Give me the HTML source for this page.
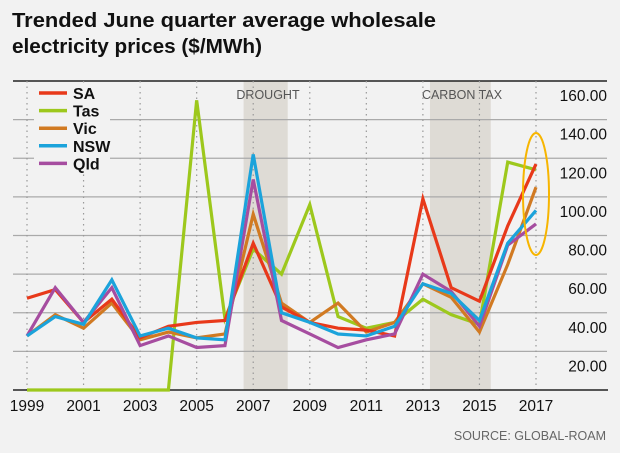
<!DOCTYPE html>
<html><head><meta charset="utf-8"><style>
html,body{margin:0;padding:0;background:#f2f2f2;}
svg{display:block;font-family:"Liberation Sans",sans-serif;}
</style></head><body>
<svg id="chart" width="620" height="453" viewBox="0 0 620 453">
<rect x="0" y="0" width="620" height="453" fill="#f2f2f2"/>
<text x="12" y="27" font-size="20" font-weight="bold" fill="#111" textLength="424" lengthAdjust="spacingAndGlyphs">Trended June quarter average wholesale</text>
<text x="12" y="53" font-size="20" font-weight="bold" fill="#111" textLength="250" lengthAdjust="spacingAndGlyphs">electricity prices ($/MWh)</text>
<g id="bands"></g><g id="grid"></g><g id="series"></g><g id="legend"></g>
<text x="606" y="440" font-size="12.5" fill="#666" text-anchor="end">SOURCE: GLOBAL-ROAM</text>
</svg>
<script>
const years = [1999,2000,2001,2002,2003,2004,2005,2006,2007,2008,2009,2010,2011,2012,2013,2014,2015,2016,2017];
const sa  = [47.5,52,35,47,27,33,35,36,76,43,35,32,31,28,99,53,46,85,117];
const tas = [0,0,0,0,0,0,150,37,73,60,96,38,32,35,47,39,34,118,114];
const vic = [28,39,32,45,26,30,27,29,91,45,35,45,30,35,55,48,30,65,105];
const nsw = [28,38,34,57,28,32,27,26,122,40,35,29,28,33,55,50,36,76,93];
const qld = [28,53,35,53,23,28,22,23,109,36,29,22,26,29,60,51,33,75,86];
const yTicks = [20,40,60,80,100,120,140,160];
const xTickYears = [1999,2001,2003,2005,2007,2009,2011,2013,2015,2017];
const seriesNames = ['SA','Tas','Vic','NSW','Qld'];
const NS='http://www.w3.org/2000/svg';
const x = yr => 27 + (yr-1999)*(536-27)/18;
const y = v => 390 - v*(390-81)/160;
function mk(tag, attrs, parent){const e=document.createElementNS(NS,tag);for(const k in attrs)e.setAttribute(k,attrs[k]);parent.appendChild(e);return e;}
const bands=document.getElementById('bands'), grid=document.getElementById('grid'), ser=document.getElementById('series'), leg=document.getElementById('legend');
let b=mk('rect',{x:x(2006.66),y:81,width:x(2008.22)-x(2006.66),height:309,fill:'#dedbd5'},bands);


b=mk('rect',{x:x(2013.25),y:81,width:x(2015.4)-x(2013.25),height:309,fill:'#dedbd5'},bands);


let t=mk('text',{x:268,y:99,'font-size':12.5,fill:'#555','text-anchor':'middle'},bands);t.textContent='DROUGHT';


t=mk('text',{x:462,y:99,'font-size':12.5,fill:'#555','text-anchor':'middle'},bands);t.textContent='CARBON TAX';


yTicks.forEach(v=>{
  const l=mk('line',{x1:13,x2:607,y1:y(v),y2:y(v),stroke:v===160?'#222':'#aaa','stroke-width':v===160?1.5:1.2},grid);
  
  
  const tx=mk('text',{x:607,y:y(v)+20,'font-size':15.5,fill:'#111','text-anchor':'end'},grid);tx.textContent=v.toFixed(2);
  
  
});
xTickYears.forEach(yr=>{
  const l=mk('line',{x1:x(yr),x2:x(yr),y1:81,y2:390,stroke:'#999','stroke-width':1.2,'stroke-dasharray':'1.5 4'},grid);
  
  
  const tx=mk('text',{x:x(yr),y:411,'font-size':15.5,fill:'#111','text-anchor':'middle'},grid);tx.textContent=yr;
  
  
});
const ax=mk('line',{x1:13,x2:608,y1:390,y2:390,stroke:'#222','stroke-width':1.5},grid);


const cols=['#e8391a','#9dc81c','#d17a22','#1ba3db','#a64da0'];
const data=[sa,tas,vic,nsw,qld];
const order=[1,2,0,4,3];
order.forEach(i=>{
  const p=mk('polyline',{points:data[i].map((v,j)=>x(years[j])+','+y(v)).join(' '),fill:'none',stroke:cols[i],'stroke-width':3.2,'stroke-linejoin':'miter'},ser);
  
  
});
const el=mk('ellipse',{cx:536,cy:194,rx:13,ry:61,fill:'none',stroke:'#f7b500','stroke-width':2},ser);


const lb=mk('rect',{x:34,y:86,width:76,height:86,fill:'#f2f2f2'},leg);


seriesNames.forEach((n,i)=>{
  const yy=93+i*17.6;
  const l=mk('line',{x1:39,x2:67,y1:yy,y2:yy,stroke:cols[i],'stroke-width':3.5},leg);
  
  
  const tx=mk('text',{x:73,y:yy+6,'font-size':16,'font-weight':'bold',fill:'#111'},leg);tx.textContent=n;
  
  
});
</script>
</body></html>
